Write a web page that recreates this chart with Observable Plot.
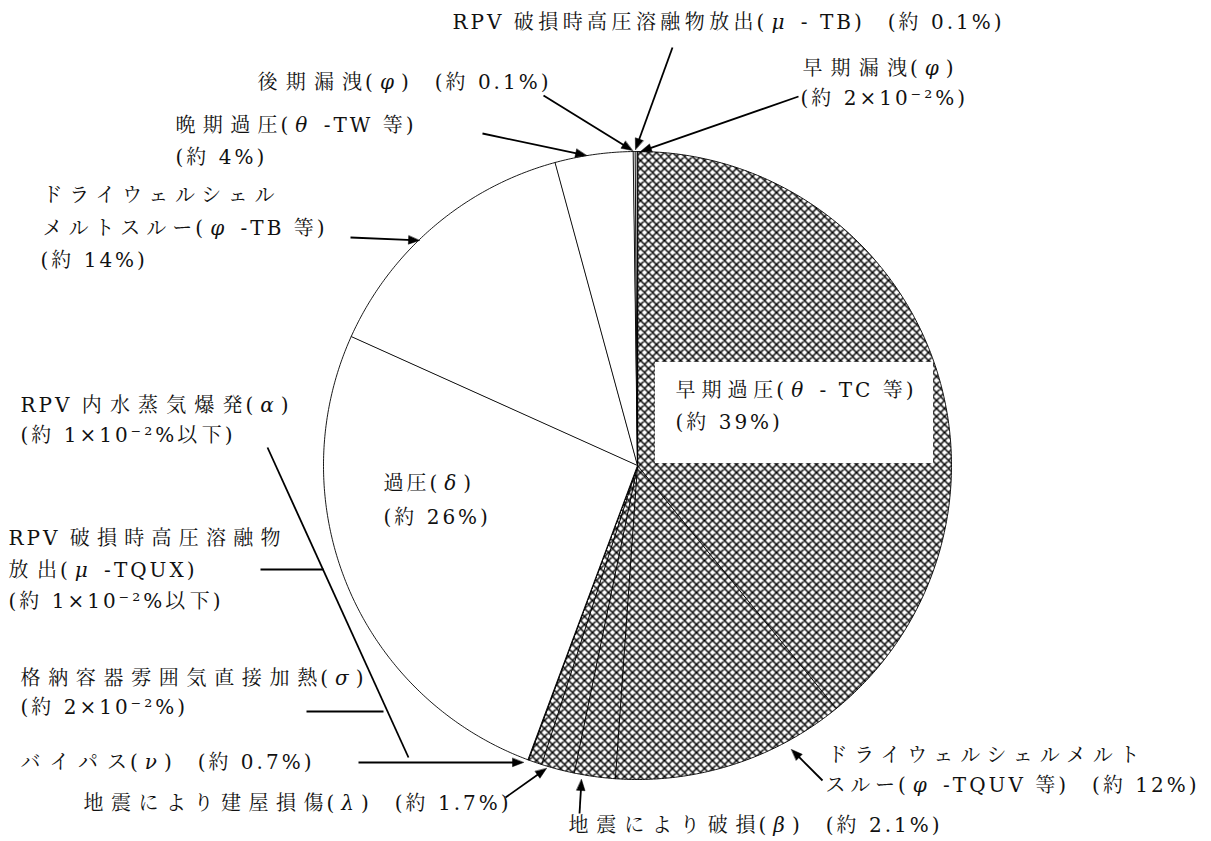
<!DOCTYPE html>
<html><head><meta charset="utf-8">
<script src="https://cdn.jsdelivr.net/npm/d3@7"></script>
<script src="https://cdn.jsdelivr.net/npm/@observablehq/plot@0.6"></script>
<style>html,body{margin:0;padding:0;background:#fff;overflow:hidden}</style>
</head><body><div id="chart"></div>
<script>
// ---- data ----
const categories = [
  "早期過圧(θ-TC等)",
  "ドライウェルシェルメルトスルー(φ-TQUV等)",
  "地震により破損(β)",
  "地震により建屋損傷(λ)",
  "バイパス(ν)",
  "格納容器雰囲気直接加熱(σ)",
  "RPV破損時高圧溶融物放出(μ-TQUX)",
  "RPV内水蒸気爆発(α)",
  "過圧(δ)",
  "ドライウェルシェルメルトスルー(φ-TB等)",
  "晩期過圧(θ-TW等)",
  "後期漏洩(φ)",
  "RPV破損時高圧溶融物放出(μ-TB)",
  "早期漏洩(φ)"
];
const values = [39, 12, 2.1, 1.7, 0.7, 0.02, 0.01, 0.01, 26, 14, 4, 0.1, 0.1, 0.02];
const hatched = [true, true, true, true, true, true, true, true, false, false, false, false, false, false];

// ---- label texts (layout: x, y = left/middle of line, w = line width) ----
const labelLines = [
  {text: "RPV 破損時高圧溶融物放出(μ - TB)　(約 0.1%)", x: 452, y: 22, w: 548},
  {text: "後期漏洩(φ)　(約 0.1%)", x: 257, y: 82, w: 290},
  {text: "早期漏洩(φ)", x: 802, y: 68, w: 150},
  {text: "(約 2×10⁻²%)", x: 800, y: 98, w: 162},
  {text: "晩期過圧(θ -TW 等)", x: 175, y: 125, w: 237},
  {text: "(約 4%)", x: 175, y: 157, w: 87},
  {text: "ドライウェルシェル", x: 42, y: 195, w: 235},
  {text: "メルトスルー(φ -TB 等)", x: 42, y: 228, w: 281},
  {text: "(約 14%)", x: 40, y: 260, w: 100},
  {text: "RPV 内水蒸気爆発(α)", x: 20, y: 405, w: 267},
  {text: "(約 1×10⁻²%以下)", x: 20, y: 435, w: 215},
  {text: "RPV 破損時高圧溶融物", x: 8, y: 538, w: 275},
  {text: "放出(μ -TQUX)", x: 8, y: 570, w: 185},
  {text: "(約 1×10⁻²%以下)", x: 8, y: 601, w: 215},
  {text: "格納容器雰囲気直接加熱(σ)", x: 20, y: 678, w: 342},
  {text: "(約 2×10⁻²%)", x: 20, y: 707, w: 162},
  {text: "バイパス(ν)　(約 0.7%)", x: 20, y: 762, w: 290},
  {text: "地震により建屋損傷(λ)　(約 1.7%)", x: 83, y: 803, w: 424},
  {text: "地震により破損(β)　(約 2.1%)", x: 568, y: 825, w: 370},
  {text: "ドライウェルシェルメルト", x: 827, y: 755, w: 315},
  {text: "スルー(φ -TQUV 等)　(約 12%)", x: 825, y: 785, w: 370},
  {text: "早期過圧(θ - TC 等)", x: 675, y: 390, w: 237},
  {text: "(約 39%)", x: 675, y: 422, w: 100},
  {text: "過圧(δ)", x: 383, y: 483, w: 80},
  {text: "(約 26%)", x: 383, y: 517, w: 100}
];
const arrowLayout = [
  {x1: 672, y1: 47, x2: 635, y2: 149},
  {x1: 543, y1: 95, x2: 632, y2: 150},
  {x1: 798, y1: 96, x2: 640, y2: 151},
  {x1: 482, y1: 133, x2: 586, y2: 155},
  {x1: 350, y1: 237, x2: 419, y2: 240},
  {x1: 822, y1: 780, x2: 791, y2: 749},
  {x1: 579, y1: 813, x2: 581, y2: 779},
  {x1: 505, y1: 797, x2: 546, y2: 768},
  {x1: 358, y1: 762, x2: 523, y2: 762}
];
const leaderLayout = [
  {x1: 267, y1: 447, x2: 408, y2: 757},
  {x1: 260, y1: 569, x2: 323, y2: 569},
  {x1: 306, y1: 711, x2: 383, y2: 711}
];
const labelBox = {x1: 655, x2: 933, y1: 362, y2: 463};

// ---- geometry ----
const W = 1211, H = 841, CX = 637, CY = 465, R = 314;
const data = categories.map((c, i) => ({category: c, value: values[i], hatched: hatched[i]}));
const arcs = d3.pie().sort(null).value(d => d.value)(data);
const slicePts = [];
arcs.forEach((a, i) => {
  const span = a.endAngle - a.startAngle;
  const n = Math.max(2, Math.ceil(span / (Math.PI / 360)));
  slicePts.push({slice: i, x: CX, y: CY, hatched: a.data.hatched});
  for (let k = 0; k <= n; k++) {
    const ang = a.startAngle + span * k / n;
    slicePts.push({slice: i, x: CX + R * Math.sin(ang), y: CY - R * Math.cos(ang), hatched: a.data.hatched});
  }
});

const L = 11, HW = 4.2;
const arrowLines = [], arrowHeads = [];
arrowLayout.forEach((a, i) => {
  const dx = a.x2 - a.x1, dy = a.y2 - a.y1, len = Math.hypot(dx, dy);
  const ux = dx / len, uy = dy / len, px = -uy, py = ux;
  arrowLines.push({x1: a.x1, y1: a.y1, x2: a.x2 - ux * L * 0.6, y2: a.y2 - uy * L * 0.6});
  const bx = a.x2 - ux * L, by = a.y2 - uy * L;
  arrowHeads.push({id: i, x: a.x2, y: a.y2});
  arrowHeads.push({id: i, x: bx + px * HW, y: by + py * HW});
  arrowHeads.push({id: i, x: bx - px * HW, y: by - py * HW});
});

const FONT = '"DejaVu Serif", "Noto Serif CJK JP", "Noto Sans CJK JP", serif';
const NS = "http://www.w3.org/2000/svg";
const BASE_LS = 3;

const defsMark = () => {
  const g = document.createElementNS(NS, "defs");
  const pat = document.createElementNS(NS, "pattern");
  pat.setAttribute("id", "hatch");
  pat.setAttribute("patternUnits", "userSpaceOnUse");
  pat.setAttribute("width", "8");
  pat.setAttribute("height", "8");
  const bg = document.createElementNS(NS, "rect");
  bg.setAttribute("width", "8"); bg.setAttribute("height", "8"); bg.setAttribute("fill", "white");
  const p = document.createElementNS(NS, "path");
  p.setAttribute("d", "M0,0L8,8M8,0L0,8M-2,6L2,10M6,-2L10,2M-2,2L2,-2M6,10L10,6");
  p.setAttribute("stroke", "black");
  p.setAttribute("stroke-width", "1.5");
  pat.appendChild(bg); pat.appendChild(p);
  g.appendChild(pat);
  return g;
};

const chart = Plot.plot({
  width: W, height: H, margin: 0,
  x: {domain: [0, W], range: [0, W], axis: null},
  y: {domain: [0, H], range: [0, H], axis: null},
  style: {background: "white"},
  marks: [
    defsMark,
    Plot.line(slicePts.filter(d => d.hatched), {x: "x", y: "y", z: "slice", curve: "linear-closed",
      fill: "url(#hatch)", stroke: "black", strokeWidth: 0.9}),
    Plot.line(slicePts.filter(d => !d.hatched), {x: "x", y: "y", z: "slice", curve: "linear-closed",
      fill: "white", stroke: "black", strokeWidth: 0.9}),
    Plot.rect([labelBox], {x1: "x1", x2: "x2", y1: "y1", y2: "y2", fill: "white"}),
    Plot.link(leaderLayout, {x1: "x1", y1: "y1", x2: "x2", y2: "y2", stroke: "black", strokeWidth: 1.8}),
    Plot.link(arrowLines, {x1: "x1", y1: "y1", x2: "x2", y2: "y2", stroke: "black", strokeWidth: 1.8}),
    Plot.line(arrowHeads, {x: "x", y: "y", z: "id", curve: "linear-closed", fill: "black", stroke: "black", strokeWidth: 0.5}),
    Plot.text(labelLines, {x: "x", y: "y", text: "text", textAnchor: "start", lineAnchor: "middle",
      fontSize: 20, fontFamily: FONT, fill: "#111"})
  ]
});
document.getElementById("chart").appendChild(chart);

// expanded character spacing, with extra spacing between consecutive full-width characters to fit each line
const kindOf = ch => /[\u0370-\u03ff]/.test(ch) ? "g" : /[\u3000-\u9fff\uff00-\uffef]/.test(ch) ? "w" : "n";
chart.querySelectorAll('g[aria-label="text"] text').forEach((t, i) => {
  const lab = labelLines[i];
  if (!lab) return;
  const s = t.textContent;
  const runs = [];
  for (const ch of s) {
    const k = kindOf(ch);
    if (runs.length && runs[runs.length - 1].k === k) runs[runs.length - 1].s += ch;
    else runs.push({k, s: ch});
  }
  t.textContent = "";
  t.setAttribute("letter-spacing", BASE_LS);
  const spaced = [];
  let gaps = 0;
  runs.forEach(r => {
    const chars = [...r.s];
    if (r.k === "w" && chars.length > 1) {
      const a = document.createElementNS(NS, "tspan");
      a.textContent = chars.slice(0, -1).join("");
      t.appendChild(a);
      spaced.push(a);
      gaps += chars.length - 1;
      const b = document.createElementNS(NS, "tspan");
      b.textContent = chars[chars.length - 1];
      t.appendChild(b);
    } else {
      const ts = document.createElementNS(NS, "tspan");
      ts.textContent = r.s;
      if (r.k === "g") {
        ts.setAttribute("font-style", "italic");
        ts.setAttribute("dx", "4");
        ts.setAttribute("letter-spacing", "7");
      }
      t.appendChild(ts);
    }
  });
  const natural = t.getComputedTextLength();
  if (gaps > 0) {
    const extra = Math.max(0, Math.min(20, (lab.w - natural) / gaps));
    spaced.forEach(ts => ts.setAttribute("letter-spacing", (BASE_LS + extra).toFixed(2)));
  }
});
</script>
</body></html>
